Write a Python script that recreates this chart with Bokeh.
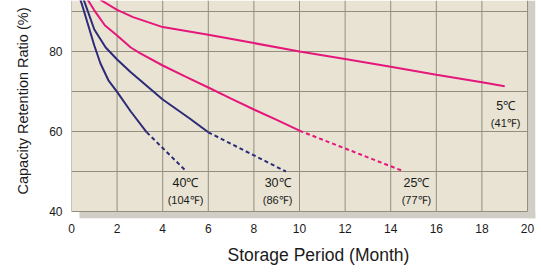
import numpy as np
from bokeh.plotting import figure
from bokeh.models import Range1d, FixedTicker, Label, Title
from bokeh.embed import file_html
from bokeh.resources import INLINE

# ---- data ----
months_5c = [0, 0.5, 1.0, 1.33, 2.0, 2.7, 4.0, 6.0, 8.0, 10.0, 12.0, 14.0, 16.0, 18.0, 19.0]
ret_5c = [100, 96.3, 94.2, 92.7, 90.4, 88.6, 86.1, 84.2, 82.1, 80.0, 78.1, 76.2, 74.2, 72.3, 71.3]

months_25c = [0, 0.4, 0.74, 1.0, 1.47, 2.0, 2.6, 3.0, 4.0, 5.0, 6.0, 7.0, 8.0, 9.0, 10.0]
ret_25c = [100, 96.0, 92.7, 90.3, 86.5, 84.0, 81.0, 79.6, 76.5, 73.7, 71.0, 68.2, 65.5, 62.9, 60.2]
months_25c_est = [10.0, 14.5]
ret_25c_est = [60.2, 50.2]

months_30c = [0, 0.3, 0.55, 1.0, 1.5, 2.0, 2.6, 3.0, 4.0, 5.2, 6.0]
ret_30c = [100, 96.0, 92.7, 85.5, 81.0, 78.0, 74.8, 72.9, 68.0, 63.2, 59.8]
months_30c_est = [6.0, 9.4]
ret_30c_est = [59.8, 50.0]

months_40c = [0, 0.5, 1.0, 1.27, 1.62, 2.0, 2.6, 3.3]
ret_40c = [100, 91.0, 81.5, 77.0, 72.8, 69.9, 65.0, 59.8]
months_40c_est = [3.3, 5.0]
ret_40c_est = [59.8, 50.25]

x_ticks = [0, 2, 4, 6, 8, 10, 12, 14, 16, 18, 20]
y_ticks = [40, 60, 80]
y_grid = [40, 50, 60, 70, 80, 90]

labels_c = ["40℃", "30℃", "25℃", "5℃"]
labels_f = ["(104℉)", "(86℉)", "(77℉)", "(41℉)"]

# ---- layout constants ----
PINK = "#E5177B"
BLUE = "#2D2B78"
BEIGE = "#E8E3D3"
SHADOW = "#D1CEC7"
GRID = "#948E7C"
TXT = "#1A1A1A"
FONT = "Liberation Sans"

X_END = 20.35
Y_START, Y_END = 38.25, 92.75

p = figure(width=541, height=273, output_backend="svg", toolbar_location=None,
           x_range=Range1d(0, X_END), y_range=Range1d(Y_START, Y_END),
           min_border_left=71, min_border_right=6, min_border_top=0, min_border_bottom=55)
p.outline_line_color = None
p.background_fill_color = "white"
p.border_fill_color = "white"
p.xgrid.visible = False
p.ygrid.visible = False

# shadow and panel
p.quad(left=[0.35], right=[X_END], bottom=[Y_START], top=[40], fill_color=SHADOW, line_color=None)
p.quad(left=[20], right=[X_END], bottom=[Y_START], top=[Y_END], fill_color=SHADOW, line_color=None)
p.quad(left=[0], right=[20], bottom=[40], top=[Y_END], fill_color=BEIGE, line_color=None)

# grid
p.segment(x0=x_ticks, y0=[40] * len(x_ticks), x1=x_ticks, y1=[Y_END] * len(x_ticks),
          line_color=GRID, line_width=1)
p.segment(x0=[0] * len(y_grid), y0=y_grid, x1=[20] * len(y_grid), y1=y_grid,
          line_color=GRID, line_width=1)

# curves
LW = 2.0
p.line(months_5c, ret_5c, line_color=PINK, line_width=LW)
p.line(months_25c, ret_25c, line_color=PINK, line_width=LW)
p.line(months_25c_est, ret_25c_est, line_color=PINK, line_width=LW, line_dash="4 3")
p.line(months_30c, ret_30c, line_color=BLUE, line_width=LW)
p.line(months_30c_est, ret_30c_est, line_color=BLUE, line_width=LW, line_dash="4 3")
p.line(months_40c, ret_40c, line_color=BLUE, line_width=LW)
p.line(months_40c_est, ret_40c_est, line_color=BLUE, line_width=LW, line_dash="4 3")

# axes
for ax in (p.xaxis[0], p.yaxis[0]):
    ax.axis_line_color = None
    ax.major_tick_line_color = None
    ax.minor_tick_line_color = None
    ax.major_tick_in = 0
    ax.major_tick_out = 0
    ax.major_label_text_font = FONT
    ax.major_label_text_font_size = "12px"
    ax.major_label_text_color = TXT
p.xaxis[0].ticker = FixedTicker(ticks=x_ticks)
p.yaxis[0].ticker = FixedTicker(ticks=y_ticks)
p.xaxis[0].major_label_standoff = 5
p.yaxis[0].major_label_standoff = 9

# axis titles
p.add_layout(Title(text="Storage Period (Month)", align="left", offset=156, standoff=14,
                   text_font=FONT, text_font_size="17.5px", text_font_style="normal",
                   text_color=TXT), "below")
p.add_layout(Title(text="Capacity Retention Ratio (%)", align="left", offset=24, standoff=27,
                   vertical_align="top",
                   text_font=FONT, text_font_size="14.5px", text_font_style="normal",
                   text_color=TXT), "left")

# temperature annotations
lab_x = [5.0, 9.04, 15.13, 19.04]
lab_y1 = [47.25, 47.25, 47.25, 66.5]
lab_y2 = [43.0, 43.0, 43.0, 62.25]
for xc, y1, y2, t1, t2 in zip(lab_x, lab_y1, lab_y2, labels_c, labels_f):
    p.add_layout(Label(x=xc, y=y1, text=t1, text_align="center", text_baseline="middle",
                       text_font=FONT, text_font_size="12.5px", text_color=TXT))
    p.add_layout(Label(x=xc, y=y2, text=t2, text_align="center", text_baseline="middle",
                       text_font=FONT, text_font_size="11px", text_color=TXT))

open("out.html", "w").write(file_html(p, INLINE))
